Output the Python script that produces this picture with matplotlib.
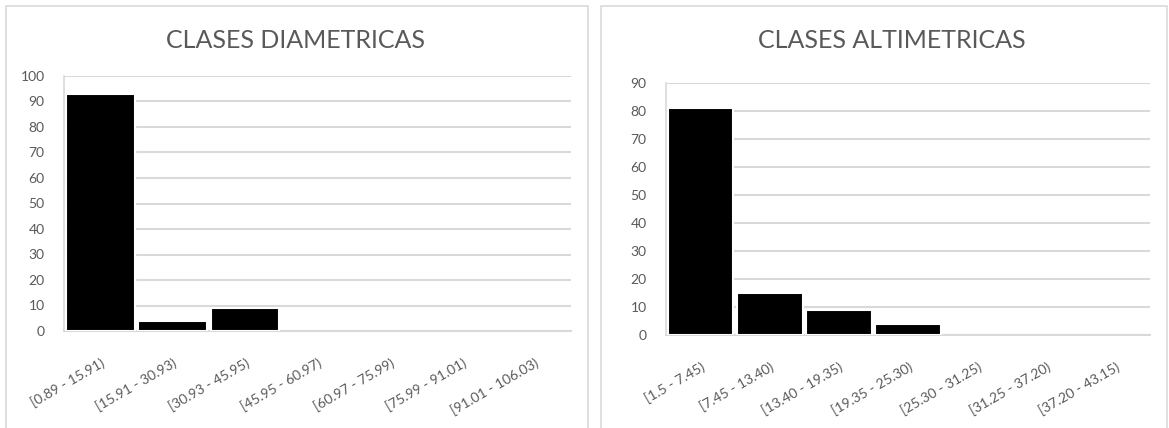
import matplotlib
matplotlib.use("Agg")
import matplotlib.pyplot as plt
from matplotlib.patches import Rectangle

# data
diam_labels = ["[0.89 - 15.91)", "[15.91 - 30.93)", "[30.93 - 45.95)", "[45.95 - 60.97)",
               "[60.97 - 75.99)", "[75.99 - 91.01)", "[91.01 - 106.03)"]
diam_counts = [93, 4, 9, 0, 0, 0, 0]

alt_labels = ["[1.5 - 7.45)", "[7.45 - 13.40)", "[13.40 - 19.35)", "[19.35 - 25.30)",
              "[25.30 - 31.25)", "[31.25 - 37.20)", "[37.20 - 43.15)"]
alt_counts = [81, 15, 9, 4, 0, 0, 0]

plt.rcParams['font.family'] = ['Lato', 'DejaVu Sans']
GRID = '#d9d9d9'
TXT = '#595959'

fig = plt.figure(figsize=(11.69, 4.28), dpi=100)
W, H = 1169, 428

# chart frames
for x0, x1 in [(6, 588), (601, 1167)]:
    fig.patches.append(Rectangle((x0 / W, -0.05), (x1 - x0) / W, 1.05 - 6 / H,
                                 transform=fig.transFigure, fill=False,
                                 edgecolor=GRID, linewidth=1.2))


def draw(rect, labels, counts, ymax, title, tx):
    ax = fig.add_axes(rect)
    x = range(len(labels))
    lw = [1.5 if c else 0 for c in counts]
    ax.bar(x, counts, width=0.95, color='black', edgecolor='white', linewidth=lw, zorder=3)
    ax.set_xlim(-0.5, len(labels) - 0.5)
    ax.set_ylim(0, ymax)
    ax.set_yticks(range(0, ymax + 1, 10))
    ax.yaxis.grid(True, color=GRID, linewidth=1.5)
    ax.set_axisbelow(True)
    for s in ['top', 'right']:
        ax.spines[s].set_visible(False)
    ax.spines['left'].set_color(GRID)
    ax.spines['bottom'].set_color(GRID)
    ax.spines['left'].set_linewidth(1.2)
    ax.spines['bottom'].set_linewidth(1.5)
    ax.tick_params(length=0, labelcolor=TXT, labelsize=10)
    ax.tick_params(axis='y', pad=14)
    ax.set_xticks(list(x))
    ax.set_xticklabels(labels, rotation=30, ha='right', rotation_mode='anchor')
    ax.tick_params(axis='x', pad=18)
    fig.text(tx / W, 1 - 41 / H, title, ha='center', va='center',
             fontsize=18, color=TXT)
    return ax


draw([64 / W, 1 - 331 / H, (571 - 64) / W, (331 - 76) / H],
     diam_labels, diam_counts, 100, "CLASES DIAMETRICAS", 296)
draw([666 / W, 1 - 335 / H, (1150 - 666) / W, (335 - 83) / H],
     alt_labels, alt_counts, 90, "CLASES ALTIMETRICAS", 892)

fig.savefig("out.png", dpi=100)
